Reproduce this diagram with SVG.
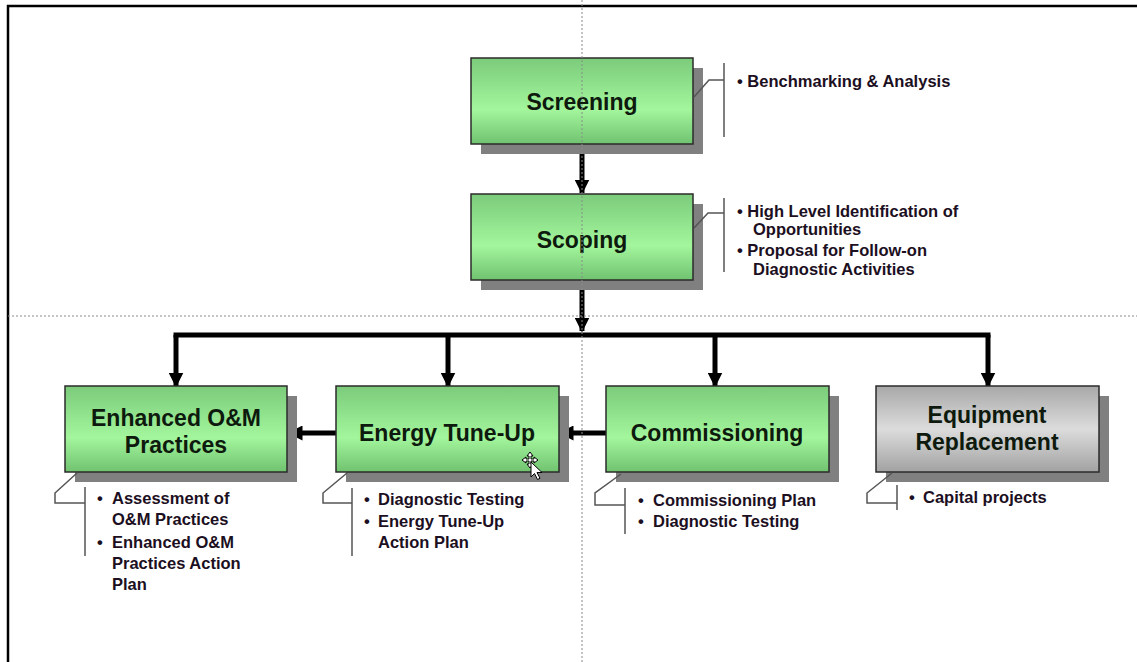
<svg xmlns="http://www.w3.org/2000/svg" width="1137" height="662" viewBox="0 0 1137 662">
  <style>
    .title { font-family: "Liberation Sans", Arial, sans-serif; font-weight: bold; font-size: 23px; fill: #0d1a0d; text-anchor: middle; }
    .note { font-family: "Liberation Sans", Arial, sans-serif; font-weight: bold; font-size: 16.5px; fill: #1c0f22; }
    .shadow { fill: #808080; }
    .box-green { fill: url(#gGreen); stroke: #2b2b2b; stroke-width: 1.5; }
    .box-gray { fill: url(#gGray); stroke: #2b2b2b; stroke-width: 1.5; }
    .callout { fill: none; stroke: #555; stroke-width: 1.5; }
    .flow { fill: none; stroke: #000; stroke-width: 5; }
    .guide { fill: none; stroke: #8a8a8a; stroke-width: 1; stroke-dasharray: 2 2; }
  </style>
  <defs>
    <linearGradient id="gGreen" x1="0" y1="0" x2="0" y2="1">
      <stop offset="0" stop-color="#7bcb7b"/>
      <stop offset="0.6" stop-color="#a3f69c"/>
      <stop offset="1" stop-color="#70c270"/>
    </linearGradient>
    <linearGradient id="gGray" x1="0" y1="0" x2="0" y2="1">
      <stop offset="0" stop-color="#a8a8a8"/>
      <stop offset="0.5" stop-color="#dcdcdc"/>
      <stop offset="1" stop-color="#a2a2a2"/>
    </linearGradient>
    <marker id="arrow" viewBox="0 0 10 10" refX="9" refY="5" markerWidth="3" markerHeight="3" orient="auto" markerUnits="strokeWidth">
      <path d="M0,0 L10,5 L0,10 z" fill="#000"/>
    </marker>
  </defs>

  <rect width="1137" height="662" fill="#fff"/>
  <!-- page frame -->
  <path d="M8,662 V6 H1137" fill="none" stroke="#000" stroke-width="2.5"/>

  <!-- connectors -->
  <g id="connectors">
    <line class="flow" x1="582" y1="144" x2="582" y2="193" stroke-width="4" marker-end="url(#arrow)"/>
    <line class="flow" x1="582" y1="280" x2="582" y2="331" stroke-width="4" marker-end="url(#arrow)"/>
    <path class="flow" d="M176,335 H988" stroke-linecap="square"/>
    <line class="flow" x1="176" y1="335" x2="176" y2="386" marker-end="url(#arrow)"/>
    <line class="flow" x1="448" y1="335" x2="448" y2="386" marker-end="url(#arrow)"/>
    <line class="flow" x1="715" y1="335" x2="715" y2="386" marker-end="url(#arrow)"/>
    <line class="flow" x1="988" y1="335" x2="988" y2="386" marker-end="url(#arrow)"/>
    <line class="flow" x1="606" y1="433" x2="560" y2="433" marker-end="url(#arrow)"/>
    <line class="flow" x1="336" y1="433" x2="289" y2="433" marker-end="url(#arrow)"/>
  </g>

  <!-- Screening -->
  <g id="screening">
    <rect class="shadow" x="481" y="68" width="222" height="86"/>
    <rect class="box-green" x="471" y="58" width="222" height="86"/>
    <text class="title" x="582" y="110">Screening</text>
    <polyline class="callout" points="694,97 709,80 724,80"/>
    <line class="callout" x1="724" y1="63" x2="724" y2="137"/>
    <text class="note" x="737" y="87">• Benchmarking &amp; Analysis</text>
  </g>

  <!-- Scoping -->
  <g id="scoping">
    <rect class="shadow" x="481" y="204" width="222" height="86"/>
    <rect class="box-green" x="471" y="194" width="222" height="86"/>
    <text class="title" x="582" y="248">Scoping</text>
    <polyline class="callout" points="694,228 708,213 724,213"/>
    <line class="callout" x1="724" y1="198" x2="724" y2="272"/>
    <text class="note" x="737" y="217">• High Level Identification of</text>
    <text class="note" x="753" y="235">Opportunities</text>
    <text class="note" x="737" y="256">• Proposal for Follow-on</text>
    <text class="note" x="753" y="275">Diagnostic Activities</text>
  </g>

  <!-- Enhanced O&M Practices -->
  <g id="enhanced-om">
    <rect class="shadow" x="75" y="396" width="222" height="86"/>
    <rect class="box-green" x="65" y="386" width="222" height="86"/>
    <text class="title" x="176" y="426">Enhanced O&amp;M</text>
    <text class="title" x="176" y="453">Practices</text>
    <polyline class="callout" points="77,473 55,493 55,503 85,503"/>
    <line class="callout" x1="85" y1="487" x2="85" y2="556"/>
    <text class="note" x="97" y="504">•</text>
    <text class="note" x="112" y="504">Assessment of</text>
    <text class="note" x="112" y="525">O&amp;M Practices</text>
    <text class="note" x="97" y="548">•</text>
    <text class="note" x="112" y="548">Enhanced O&amp;M</text>
    <text class="note" x="112" y="569">Practices Action</text>
    <text class="note" x="112" y="590">Plan</text>
  </g>

  <!-- Energy Tune-Up -->
  <g id="energy-tune-up">
    <rect class="shadow" x="346" y="396" width="223" height="86"/>
    <rect class="box-green" x="336" y="386" width="223" height="86"/>
    <text class="title" x="447" y="441">Energy Tune-Up</text>
    <polyline class="callout" points="347,473 323,493 323,503 352,503"/>
    <line class="callout" x1="352" y1="488" x2="352" y2="556"/>
    <text class="note" x="364" y="505">•</text>
    <text class="note" x="378" y="505">Diagnostic Testing</text>
    <text class="note" x="364" y="527">•</text>
    <text class="note" x="378" y="527">Energy Tune-Up</text>
    <text class="note" x="378" y="548">Action Plan</text>
  </g>

  <!-- Commissioning -->
  <g id="commissioning">
    <rect class="shadow" x="616" y="396" width="223" height="86"/>
    <rect class="box-green" x="606" y="386" width="223" height="86"/>
    <text class="title" x="717" y="441">Commissioning</text>
    <polyline class="callout" points="621,474 595,493 595,505 625,505"/>
    <line class="callout" x1="625" y1="488" x2="625" y2="534"/>
    <text class="note" x="638" y="506">•</text>
    <text class="note" x="653" y="506">Commissioning Plan</text>
    <text class="note" x="638" y="527">•</text>
    <text class="note" x="653" y="527">Diagnostic Testing</text>
  </g>

  <!-- Equipment Replacement -->
  <g id="equipment-replacement">
    <rect class="shadow" x="886" y="396" width="223" height="86"/>
    <rect class="box-gray" x="876" y="386" width="223" height="86"/>
    <text class="title" x="987" y="423">Equipment</text>
    <text class="title" x="987" y="450">Replacement</text>
    <polyline class="callout" points="892,473 867,493 867,503 897,503"/>
    <line class="callout" x1="897" y1="485" x2="897" y2="510"/>
    <text class="note" x="909" y="503">•</text>
    <text class="note" x="923" y="503">Capital projects</text>
  </g>

  <!-- dotted layout guides -->
  <line class="guide" x1="582" y1="0" x2="582" y2="662"/>
  <line class="guide" x1="8" y1="316" x2="1137" y2="316"/>

  <!-- mouse pointer with move cross -->
  <g id="pointer" stroke="#000" stroke-width="1" fill="#fff">
    <path d="M530,452 l-3,4 h2 v3 h-3 v-2 l-4,3 l4,3 v-2 h3 v3 h-2 l3,4 l3,-4 h-2 v-3 h3 v2 l4,-3 l-4,-3 v2 h-3 v-3 h2 z"/>
    <path d="M531,462 v15 l3.5,-3.5 l3,6 l2.5,-1.2 l-3,-5.8 h5 z"/>
  </g>
</svg>
